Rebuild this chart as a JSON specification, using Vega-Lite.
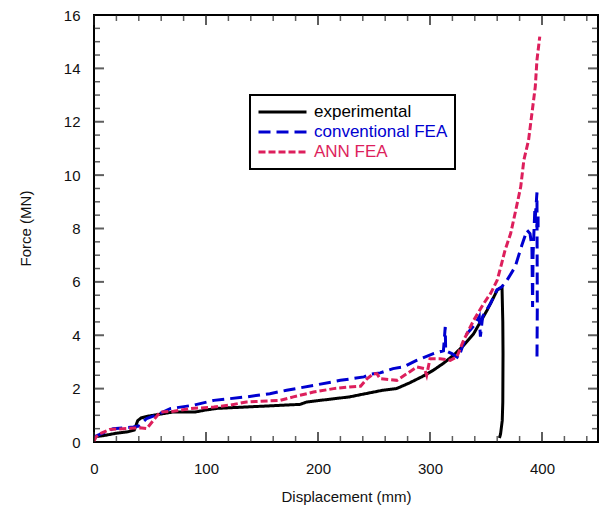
{
  "$schema": "https://vega.github.io/schema/vega-lite/v6.json",
  "width": 504,
  "height": 427,
  "autosize": {"type": "none"},
  "padding": {"left": 94, "top": 15, "right": 5, "bottom": 70},
  "background": "white",
  "config": {
    "view": {"stroke": "black", "strokeWidth": 2},
    "font": "Liberation Sans",
    "legend": {"strokeWidth": 2, "strokeColor": "black"},
    "axis": {
      "grid": false,
      "domain": false,
      "ticks": false,
      "labelFlush": false,
      "labelColor": "#111",
      "labelFont": "Liberation Sans",
      "labelFontSize": 15,
      "titleFont": "Liberation Sans",
      "titleFontSize": 15,
      "titleFontWeight": "normal",
      "titleColor": "#111"
    }
  },
  "datasets": {
    "xmajor": [{"v": 0}, {"v": 100}, {"v": 200}, {"v": 300}, {"v": 400}],
    "xminor": [
      {"v": 20}, {"v": 40}, {"v": 60}, {"v": 80}, {"v": 120}, {"v": 140}, {"v": 160}, {"v": 180},
      {"v": 220}, {"v": 240}, {"v": 260}, {"v": 280}, {"v": 320}, {"v": 340}, {"v": 360}, {"v": 380},
      {"v": 420}, {"v": 440}
    ],
    "ymajor": [{"v": 2}, {"v": 4}, {"v": 6}, {"v": 8}, {"v": 10}, {"v": 12}, {"v": 14}],
    "yminor": [
      {"v": 0.5}, {"v": 1}, {"v": 1.5}, {"v": 2.5}, {"v": 3}, {"v": 3.5}, {"v": 4.5}, {"v": 5}, {"v": 5.5},
      {"v": 6.5}, {"v": 7}, {"v": 7.5}, {"v": 8.5}, {"v": 9}, {"v": 9.5}, {"v": 10.5}, {"v": 11}, {"v": 11.5},
      {"v": 12.5}, {"v": 13}, {"v": 13.5}, {"v": 14.5}, {"v": 15}, {"v": 15.5}
    ],
    "curves": [
      {"s": "experimental", "i": 0, "x": 0, "y": 0.2},
      {"s": "experimental", "i": 1, "x": 5, "y": 0.22},
      {"s": "experimental", "i": 2, "x": 10, "y": 0.25},
      {"s": "experimental", "i": 3, "x": 20, "y": 0.33},
      {"s": "experimental", "i": 4, "x": 30, "y": 0.38},
      {"s": "experimental", "i": 5, "x": 36, "y": 0.45},
      {"s": "experimental", "i": 6, "x": 39, "y": 0.8},
      {"s": "experimental", "i": 7, "x": 42, "y": 0.9},
      {"s": "experimental", "i": 8, "x": 47, "y": 0.96},
      {"s": "experimental", "i": 9, "x": 60, "y": 1.05},
      {"s": "experimental", "i": 10, "x": 70, "y": 1.12},
      {"s": "experimental", "i": 11, "x": 90, "y": 1.12},
      {"s": "experimental", "i": 12, "x": 100, "y": 1.2},
      {"s": "experimental", "i": 13, "x": 110, "y": 1.26},
      {"s": "experimental", "i": 14, "x": 140, "y": 1.32},
      {"s": "experimental", "i": 15, "x": 184, "y": 1.41},
      {"s": "experimental", "i": 16, "x": 190, "y": 1.5},
      {"s": "experimental", "i": 17, "x": 200, "y": 1.55},
      {"s": "experimental", "i": 18, "x": 228, "y": 1.69},
      {"s": "experimental", "i": 19, "x": 258, "y": 1.94},
      {"s": "experimental", "i": 20, "x": 270, "y": 2.0},
      {"s": "experimental", "i": 21, "x": 282, "y": 2.22},
      {"s": "experimental", "i": 22, "x": 293, "y": 2.45},
      {"s": "experimental", "i": 23, "x": 303, "y": 2.69},
      {"s": "experimental", "i": 24, "x": 312, "y": 2.95},
      {"s": "experimental", "i": 25, "x": 321, "y": 3.25},
      {"s": "experimental", "i": 26, "x": 330, "y": 3.62},
      {"s": "experimental", "i": 27, "x": 339, "y": 4.06},
      {"s": "experimental", "i": 28, "x": 345, "y": 4.5},
      {"s": "experimental", "i": 29, "x": 351, "y": 4.94},
      {"s": "experimental", "i": 30, "x": 356, "y": 5.35},
      {"s": "experimental", "i": 31, "x": 360, "y": 5.69},
      {"s": "experimental", "i": 32, "x": 364.3, "y": 5.81},
      {"s": "experimental", "i": 33, "x": 365, "y": 4.5},
      {"s": "experimental", "i": 34, "x": 365.2, "y": 3.3},
      {"s": "experimental", "i": 35, "x": 365, "y": 1.5},
      {"s": "experimental", "i": 36, "x": 364.5, "y": 0.8},
      {"s": "experimental", "i": 37, "x": 363, "y": 0.3},
      {"s": "experimental", "i": 38, "x": 362, "y": 0.15},

      {"s": "conventional FEA", "i": 0, "x": 0, "y": 0.19},
      {"s": "conventional FEA", "i": 1, "x": 10, "y": 0.37},
      {"s": "conventional FEA", "i": 2, "x": 17, "y": 0.5},
      {"s": "conventional FEA", "i": 3, "x": 35, "y": 0.56},
      {"s": "conventional FEA", "i": 4, "x": 40, "y": 0.6},
      {"s": "conventional FEA", "i": 5, "x": 47, "y": 0.88},
      {"s": "conventional FEA", "i": 6, "x": 58, "y": 1.05},
      {"s": "conventional FEA", "i": 7, "x": 68, "y": 1.25},
      {"s": "conventional FEA", "i": 8, "x": 89, "y": 1.38},
      {"s": "conventional FEA", "i": 9, "x": 107, "y": 1.56},
      {"s": "conventional FEA", "i": 10, "x": 136, "y": 1.69},
      {"s": "conventional FEA", "i": 11, "x": 157, "y": 1.81},
      {"s": "conventional FEA", "i": 12, "x": 172, "y": 1.94},
      {"s": "conventional FEA", "i": 13, "x": 196, "y": 2.12},
      {"s": "conventional FEA", "i": 14, "x": 220, "y": 2.31},
      {"s": "conventional FEA", "i": 15, "x": 241, "y": 2.44},
      {"s": "conventional FEA", "i": 16, "x": 247, "y": 2.54},
      {"s": "conventional FEA", "i": 17, "x": 255.5, "y": 2.59},
      {"s": "conventional FEA", "i": 18, "x": 267, "y": 2.75},
      {"s": "conventional FEA", "i": 19, "x": 276, "y": 2.81},
      {"s": "conventional FEA", "i": 20, "x": 288, "y": 3.06},
      {"s": "conventional FEA", "i": 21, "x": 303, "y": 3.31},
      {"s": "conventional FEA", "i": 22, "x": 312, "y": 3.42},
      {"s": "conventional FEA", "i": 23, "x": 313.6, "y": 4.31},
      {"s": "conventional FEA", "i": 24, "x": 314, "y": 3.42},
      {"s": "conventional FEA", "i": 25, "x": 319.5, "y": 3.31},
      {"s": "conventional FEA", "i": 26, "x": 325.5, "y": 3.15},
      {"s": "conventional FEA", "i": 27, "x": 333, "y": 4.06},
      {"s": "conventional FEA", "i": 28, "x": 340, "y": 4.4},
      {"s": "conventional FEA", "i": 29, "x": 344, "y": 4.7},
      {"s": "conventional FEA", "i": 30, "x": 345, "y": 3.95},
      {"s": "conventional FEA", "i": 31, "x": 347, "y": 4.7},
      {"s": "conventional FEA", "i": 32, "x": 354, "y": 5.19},
      {"s": "conventional FEA", "i": 33, "x": 359.8, "y": 5.7},
      {"s": "conventional FEA", "i": 34, "x": 364, "y": 5.81},
      {"s": "conventional FEA", "i": 35, "x": 368.7, "y": 6.06},
      {"s": "conventional FEA", "i": 36, "x": 376, "y": 6.56},
      {"s": "conventional FEA", "i": 37, "x": 382, "y": 7.37},
      {"s": "conventional FEA", "i": 38, "x": 386.6, "y": 7.94},
      {"s": "conventional FEA", "i": 39, "x": 389.3, "y": 7.81},
      {"s": "conventional FEA", "i": 40, "x": 391, "y": 7.31},
      {"s": "conventional FEA", "i": 41, "x": 391.6, "y": 5.06},
      {"s": "conventional FEA", "i": 42, "x": 392, "y": 7.0},
      {"s": "conventional FEA", "i": 43, "x": 393.5, "y": 8.6},
      {"s": "conventional FEA", "i": 44, "x": 396.5, "y": 8.6},
      {"s": "conventional FEA", "i": 45, "x": 396.5, "y": 8.1},
      {"s": "conventional FEA", "i": 46, "x": 393.5, "y": 8.1},
      {"s": "conventional FEA", "i": 47, "x": 395.5, "y": 9.35},
      {"s": "conventional FEA", "i": 48, "x": 395.8, "y": 5.0},
      {"s": "conventional FEA", "i": 49, "x": 395.5, "y": 3.0},

      {"s": "ANN FEA", "i": 0, "x": 0, "y": 0.03},
      {"s": "ANN FEA", "i": 1, "x": 2, "y": 0.2},
      {"s": "ANN FEA", "i": 2, "x": 5.4, "y": 0.31},
      {"s": "ANN FEA", "i": 3, "x": 14, "y": 0.47},
      {"s": "ANN FEA", "i": 4, "x": 26, "y": 0.5},
      {"s": "ANN FEA", "i": 5, "x": 41, "y": 0.53},
      {"s": "ANN FEA", "i": 6, "x": 47, "y": 0.5},
      {"s": "ANN FEA", "i": 7, "x": 53, "y": 0.81},
      {"s": "ANN FEA", "i": 8, "x": 59, "y": 1.12},
      {"s": "ANN FEA", "i": 9, "x": 71, "y": 1.15},
      {"s": "ANN FEA", "i": 10, "x": 86, "y": 1.25},
      {"s": "ANN FEA", "i": 11, "x": 107, "y": 1.31},
      {"s": "ANN FEA", "i": 12, "x": 121, "y": 1.38},
      {"s": "ANN FEA", "i": 13, "x": 136, "y": 1.5},
      {"s": "ANN FEA", "i": 14, "x": 166, "y": 1.56},
      {"s": "ANN FEA", "i": 15, "x": 178, "y": 1.69},
      {"s": "ANN FEA", "i": 16, "x": 196, "y": 1.87},
      {"s": "ANN FEA", "i": 17, "x": 214, "y": 2.0},
      {"s": "ANN FEA", "i": 18, "x": 228, "y": 2.06},
      {"s": "ANN FEA", "i": 19, "x": 238, "y": 2.09},
      {"s": "ANN FEA", "i": 20, "x": 243.7, "y": 2.37},
      {"s": "ANN FEA", "i": 21, "x": 249.6, "y": 2.56},
      {"s": "ANN FEA", "i": 22, "x": 252.6, "y": 2.56},
      {"s": "ANN FEA", "i": 23, "x": 255.5, "y": 2.37},
      {"s": "ANN FEA", "i": 24, "x": 270.4, "y": 2.31},
      {"s": "ANN FEA", "i": 25, "x": 279.4, "y": 2.56},
      {"s": "ANN FEA", "i": 26, "x": 288.3, "y": 2.81},
      {"s": "ANN FEA", "i": 27, "x": 295, "y": 2.75},
      {"s": "ANN FEA", "i": 28, "x": 297, "y": 2.5},
      {"s": "ANN FEA", "i": 29, "x": 300, "y": 3.12},
      {"s": "ANN FEA", "i": 30, "x": 309, "y": 3.12},
      {"s": "ANN FEA", "i": 31, "x": 318, "y": 3.06},
      {"s": "ANN FEA", "i": 32, "x": 324, "y": 3.19},
      {"s": "ANN FEA", "i": 33, "x": 330, "y": 3.81},
      {"s": "ANN FEA", "i": 34, "x": 339, "y": 4.56},
      {"s": "ANN FEA", "i": 35, "x": 348, "y": 5.19},
      {"s": "ANN FEA", "i": 36, "x": 354, "y": 5.56},
      {"s": "ANN FEA", "i": 37, "x": 360, "y": 6.06},
      {"s": "ANN FEA", "i": 38, "x": 364, "y": 6.69},
      {"s": "ANN FEA", "i": 39, "x": 367, "y": 7.19},
      {"s": "ANN FEA", "i": 40, "x": 372, "y": 7.81},
      {"s": "ANN FEA", "i": 41, "x": 376.6, "y": 8.69},
      {"s": "ANN FEA", "i": 42, "x": 381, "y": 9.56},
      {"s": "ANN FEA", "i": 43, "x": 383.8, "y": 10.56},
      {"s": "ANN FEA", "i": 44, "x": 388, "y": 11.31},
      {"s": "ANN FEA", "i": 45, "x": 391, "y": 12.31},
      {"s": "ANN FEA", "i": 46, "x": 394, "y": 13.31},
      {"s": "ANN FEA", "i": 47, "x": 395.5, "y": 14.31},
      {"s": "ANN FEA", "i": 48, "x": 398, "y": 15.19}
    ]
  },
  "layer": [
    {
      "data": {"name": "curves"},
      "mark": {"type": "line", "strokeWidth": 3, "clip": true},
      "encoding": {
        "x": {
          "field": "x", "type": "quantitative",
          "scale": {"domain": [0, 450], "nice": false, "zero": false},
          "axis": {
            "orient": "bottom", "title": "Displacement (mm)",
            "values": [0, 100, 200, 300, 400], "format": "d",
            "labelPadding": 19, "labelFlush": false,
            "titleX": 252, "titleY": 54, "titleBaseline": "middle", "titleAnchor": "middle"
          }
        },
        "y": {
          "field": "y", "type": "quantitative",
          "scale": {"domain": [0, 16], "nice": false},
          "axis": {
            "orient": "left", "title": "Force (MN)",
            "values": [0, 2, 4, 6, 8, 10, 12, 14, 16], "format": "d",
            "labelPadding": 14, "labelFlush": false,
            "titleX": -69, "titleY": 213, "titleBaseline": "middle", "titleAnchor": "middle", "titleAngle": -90
          }
        },
        "color": {
          "field": "s", "type": "nominal",
          "scale": {"domain": ["experimental", "conventional FEA", "ANN FEA"], "range": ["#000000", "#0000D0", "#DD1F5C"]},
          "legend": {
            "title": null,
            "orient": "none", "legendX": 156, "legendY": 80,
            "fillColor": "white", "strokeColor": "black",
            "padding": 7, "rowPadding": 0, "clipHeight": 20,
            "symbolType": "stroke", "symbolSize": 2304, "symbolStrokeWidth": 3,
            "labelFont": "Liberation Sans", "labelFontSize": 17, "labelOffset": 6,
            "labelLimit": 300,
            "encode": {"labels": {"update": {"fill": {"scale": "color", "field": "value"}}}}
          }
        },
        "strokeDash": {
          "field": "s", "type": "nominal",
          "scale": {"domain": ["experimental", "conventional FEA", "ANN FEA"], "range": [[1, 0], [12, 6], [7, 3]]},
          "legend": {
            "title": null,
            "orient": "none", "legendX": 156, "legendY": 80,
            "padding": 7, "rowPadding": 0, "clipHeight": 20,
            "symbolType": "stroke", "symbolSize": 2304, "symbolStrokeWidth": 3
          }
        },
        "order": {"field": "i", "type": "quantitative"}
      }
    },
    {
      "data": {"name": "xmajor"},
      "mark": {"type": "tick", "orient": "vertical", "size": 10, "thickness": 2, "yOffset": -5, "color": "#1a1a1a"},
      "encoding": {
        "x": {"field": "v", "type": "quantitative"},
        "y": {"datum": 0, "type": "quantitative"}
      }
    },
    {
      "data": {"name": "xmajor"},
      "mark": {"type": "tick", "orient": "vertical", "size": 10, "thickness": 2, "yOffset": 5, "color": "#1a1a1a"},
      "encoding": {
        "x": {"field": "v", "type": "quantitative"},
        "y": {"datum": 16, "type": "quantitative"}
      }
    },
    {
      "data": {"name": "xminor"},
      "mark": {"type": "tick", "orient": "vertical", "size": 6, "thickness": 1.5, "yOffset": -3, "color": "#1a1a1a"},
      "encoding": {
        "x": {"field": "v", "type": "quantitative"},
        "y": {"datum": 0, "type": "quantitative"}
      }
    },
    {
      "data": {"name": "xminor"},
      "mark": {"type": "tick", "orient": "vertical", "size": 6, "thickness": 1.5, "yOffset": 3, "color": "#1a1a1a"},
      "encoding": {
        "x": {"field": "v", "type": "quantitative"},
        "y": {"datum": 16, "type": "quantitative"}
      }
    },
    {
      "data": {"name": "ymajor"},
      "mark": {"type": "tick", "orient": "horizontal", "size": 10, "thickness": 2, "xOffset": 5, "color": "#1a1a1a"},
      "encoding": {
        "y": {"field": "v", "type": "quantitative"},
        "x": {"datum": 0, "type": "quantitative"}
      }
    },
    {
      "data": {"name": "ymajor"},
      "mark": {"type": "tick", "orient": "horizontal", "size": 10, "thickness": 2, "xOffset": -5, "color": "#1a1a1a"},
      "encoding": {
        "y": {"field": "v", "type": "quantitative"},
        "x": {"datum": 450, "type": "quantitative"}
      }
    },
    {
      "data": {"name": "yminor"},
      "mark": {"type": "tick", "orient": "horizontal", "size": 6, "thickness": 1.5, "xOffset": 3, "color": "#1a1a1a"},
      "encoding": {
        "y": {"field": "v", "type": "quantitative"},
        "x": {"datum": 0, "type": "quantitative"}
      }
    },
    {
      "data": {"name": "yminor"},
      "mark": {"type": "tick", "orient": "horizontal", "size": 6, "thickness": 1.5, "xOffset": -3, "color": "#1a1a1a"},
      "encoding": {
        "y": {"field": "v", "type": "quantitative"},
        "x": {"datum": 450, "type": "quantitative"}
      }
    }
  ]
}
